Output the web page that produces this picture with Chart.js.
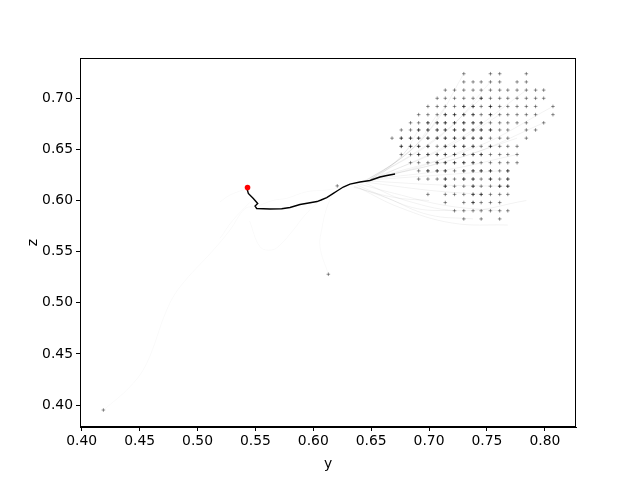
<!DOCTYPE html>
<html>
<head>
<meta charset="utf-8">
<script src="https://cdn.jsdelivr.net/npm/chart.js@4/dist/chart.umd.min.js"></script>
<style>
  html, body { margin: 0; padding: 0; background: #fff; }
</style>
</head>
<body>
<canvas id="trajChart" width="640" height="480"></canvas>
<script>
// grid of start positions (column y values, row z values, which columns each row has)
const colY = [0.668, 0.676, 0.684, 0.691, 0.699, 0.707, 0.714, 0.722, 0.730, 0.738,
              0.745, 0.753, 0.761, 0.768, 0.776, 0.784, 0.792, 0.799, 0.807];
const rowZ = [0.724, 0.716, 0.708, 0.700, 0.692, 0.684, 0.676, 0.669, 0.661, 0.653,
              0.645, 0.637, 0.629, 0.621, 0.614, 0.606, 0.598, 0.590, 0.582];
const rowCols = [
    [8, 11, 12, 15],
    [8, 9, 10, 11, 12, 14, 15],
    [6, 7, 8, 9, 10, 11, 12, 13, 14, 15, 16, 17],
    [5, 6, 7, 8, 9, 10, 11, 12, 13, 14, 15, 16, 17],
    [4, 5, 6, 7, 8, 9, 10, 11, 12, 13, 14, 15, 16, 18],
    [3, 4, 5, 6, 7, 8, 9, 10, 11, 12, 13, 14, 15, 16, 18],
    [2, 3, 4, 5, 6, 7, 8, 9, 10, 11, 12, 13, 14, 15, 17],
    [1, 2, 3, 4, 5, 6, 7, 8, 9, 10, 11, 12, 13, 15, 16],
    [0, 1, 2, 3, 4, 5, 6, 7, 8, 9, 10, 11, 12, 13, 15],
    [1, 2, 3, 4, 5, 6, 7, 8, 9, 10, 11, 12, 13, 14],
    [1, 2, 3, 4, 5, 6, 7, 8, 9, 10, 11, 12, 13, 14],
    [2, 3, 4, 5, 6, 7, 8, 9, 10, 11, 12, 13, 14],
    [3, 4, 5, 6, 7, 8, 9, 10, 11, 12, 13],
    [3, 4, 5, 6, 7, 8, 9, 10, 11, 12, 13],
    [6, 7, 8, 9, 10, 11, 12, 13],
    [4, 6, 7, 8, 9, 10, 11, 12, 13],
    [6, 8, 9, 10, 11, 12],
    [7, 8, 9, 10, 11, 12, 13],
    [8, 10, 12]
];
// cells where several markers overlap (drawn darker)
const darkCols = [
    [], [], [], [10], [8, 9, 11], [6, 7, 8, 9, 11], [4, 5, 6, 7, 8, 9, 10],
    [3, 4, 5, 6, 7, 8, 9, 10, 11], [1, 2, 3, 4, 5, 6, 7, 8, 9, 10],
    [1, 2, 3, 4, 6, 7, 8, 9, 11], [3, 4, 5, 6, 7, 8, 9, 10], [5, 6, 7, 8, 9],
    [4, 5, 6, 8, 9, 10, 11, 13], [6, 8, 9, 11, 13], [6, 9, 12, 13], [9, 10], [9], [], []
];
// stray end points
const extraY = [0.4187, 0.6130, 0.6207];
const extraZ = [0.3951, 0.5279, 0.6143];

// mean trajectory (black) and its start (red)
const pathY = [0.5425, 0.5439, 0.5482, 0.5520, 0.5497, 0.5511, 0.5626, 0.5727, 0.5799, 0.5885,
               0.5972, 0.6032, 0.6067, 0.6116, 0.6173, 0.6205, 0.6259, 0.6317, 0.6403, 0.6490,
               0.6576, 0.6636, 0.6706];
const pathZ = [0.6125, 0.6070, 0.6020, 0.5971, 0.5946, 0.5922, 0.5917, 0.5920, 0.5932, 0.5961,
               0.5978, 0.5990, 0.6005, 0.6029, 0.6070, 0.6093, 0.6132, 0.6161, 0.6181, 0.6196,
               0.6230, 0.6245, 0.6259];
const startY = [0.5432];
const startZ = [0.6128];

// faint single trajectories in the fan, [y, z] pairs
const fanTraces = [
    [[0.730, 0.724], [0.700, 0.668], [0.655, 0.622]],
    [[0.753, 0.716], [0.712, 0.665], [0.650, 0.621]],
    [[0.784, 0.708], [0.725, 0.660], [0.655, 0.622]],
    [[0.807, 0.692], [0.740, 0.652], [0.650, 0.621]],
    [[0.799, 0.676], [0.735, 0.645], [0.655, 0.622]],
    [[0.745, 0.700], [0.705, 0.660], [0.648, 0.620]],
    [[0.714, 0.692], [0.690, 0.655], [0.650, 0.621]],
    [[0.707, 0.684], [0.685, 0.650], [0.645, 0.619]],
    [[0.761, 0.684], [0.715, 0.652], [0.650, 0.621]],
    [[0.776, 0.661], [0.720, 0.640], [0.650, 0.621]],
    [[0.691, 0.669], [0.675, 0.642], [0.645, 0.619]],
    [[0.738, 0.653], [0.700, 0.636], [0.648, 0.620]],
    [[0.684, 0.653], [0.668, 0.635], [0.642, 0.618]],
    [[0.776, 0.645], [0.715, 0.630], [0.650, 0.621]],
    [[0.761, 0.629], [0.710, 0.625], [0.648, 0.620]],
    [[0.768, 0.614], [0.715, 0.615], [0.650, 0.619]],
    [[0.745, 0.606], [0.700, 0.610], [0.645, 0.618]],
    [[0.761, 0.590], [0.715, 0.595], [0.670, 0.607], [0.640, 0.616]],
    [[0.738, 0.582], [0.700, 0.586], [0.665, 0.602], [0.638, 0.615]],
    [[0.784, 0.600], [0.730, 0.590], [0.680, 0.600], [0.645, 0.617]],
    [[0.722, 0.590], [0.690, 0.592], [0.660, 0.604], [0.635, 0.614]],
    [[0.768, 0.576], [0.720, 0.578], [0.675, 0.593], [0.640, 0.612]],
    [[0.700, 0.600], [0.670, 0.603], [0.635, 0.613]]
];
// very faint stray trajectories on the left
const looseTraces = [
    [[0.4187, 0.3951], [0.4417, 0.4179], [0.4561, 0.4408], [0.4734, 0.4929], [0.4850, 0.5157],
     [0.5137, 0.5516], [0.5281, 0.5712], [0.5410, 0.5920], [0.5500, 0.5940]],
    [[0.6130, 0.5278], [0.6058, 0.5548], [0.6075, 0.5731], [0.6116, 0.5927], [0.6170, 0.6070]],
    [[0.5450, 0.5800], [0.5540, 0.5548], [0.5641, 0.5516], [0.5712, 0.5565], [0.5827, 0.5711],
     [0.5928, 0.5858], [0.6040, 0.5985]],
    [[0.5510, 0.5940], [0.5650, 0.6000], [0.5770, 0.6022], [0.5943, 0.6086], [0.6116, 0.6103],
     [0.6250, 0.6130]],
    [[0.5195, 0.5988], [0.5281, 0.6054], [0.5395, 0.6103], [0.5450, 0.6120]],
    [[0.5195, 0.5630], [0.5300, 0.5800], [0.5450, 0.5980]]
];

const xTicks = [0.40, 0.45, 0.50, 0.55, 0.60, 0.65, 0.70, 0.75, 0.80];
const yTicks = [0.40, 0.45, 0.50, 0.55, 0.60, 0.65, 0.70];

// build point lists
const gridPts = [];
rowCols.forEach((cols, r) => cols.forEach(c => gridPts.push({ x: colY[c], y: rowZ[r] })));
extraY.forEach((v, i) => gridPts.push({ x: v, y: extraZ[i] }));
const darkPts = [];
darkCols.forEach((cols, r) => cols.forEach(c => darkPts.push({ x: colY[c], y: rowZ[r] })));
const pathPts = pathY.map((v, i) => ({ x: v, y: pathZ[i] }));
const startPts = startY.map((v, i) => ({ x: v, y: startZ[i] }));

const datasets = [
    { data: startPts, pointStyle: "circle", pointRadius: 2.8, backgroundColor: "#ff0000",
      borderColor: "#ff0000", borderWidth: 0, showLine: false, order: 0 },
    { data: pathPts, showLine: true, borderColor: "#000", borderWidth: 1.4, pointRadius: 0,
      tension: 0, order: 1 },
    { data: darkPts, pointStyle: "cross", pointRadius: 1.8, borderColor: "rgba(0,0,0,0.4)",
      borderWidth: 1, showLine: false, order: 2 },
    { data: gridPts, pointStyle: "cross", pointRadius: 1.8, borderColor: "rgba(0,0,0,0.42)",
      borderWidth: 1, showLine: false, order: 3 }
];
fanTraces.forEach(t => datasets.push({
    data: t.map(p => ({ x: p[0], y: p[1] })),
    showLine: true, borderColor: "rgba(0,0,0,0.05)", borderWidth: 1, pointRadius: 0,
    tension: 0.4, order: 4
}));
looseTraces.forEach(t => datasets.push({
    data: t.map(p => ({ x: p[0], y: p[1] })),
    showLine: true, borderColor: "rgba(0,0,0,0.025)", borderWidth: 1, pointRadius: 0,
    tension: 0.4, order: 5
}));

// all four spines like the original
const frame = {
    id: "frame",
    afterDraw(chart) {
        const a = chart.chartArea, ctx = chart.ctx;
        ctx.save();
        ctx.strokeStyle = "#000";
        ctx.lineWidth = 1;
        ctx.strokeRect(Math.round(a.left) + 0.5, Math.round(a.top) + 0.5,
                       Math.round(a.right - a.left) - 1, Math.round(a.bottom - a.top) - 1);
        ctx.restore();
    }
};

const font = { family: "DejaVu Sans", size: 13.9 };

new Chart(document.getElementById("trajChart"), {
    type: "scatter",
    data: { datasets: datasets },
    plugins: [frame],
    options: {
        responsive: false,
        animation: false,
        layout: { padding: { left: 0, right: 64, top: 58, bottom: 7 } },
        plugins: { legend: { display: false }, tooltip: { enabled: false } },
        scales: {
            x: {
                type: "linear", min: 0.3985, max: 0.8269,
                afterBuildTicks: s => { s.ticks = xTicks.map(v => ({ value: v })); },
                afterFit: s => { s.height = 46; },
                ticks: { callback: v => v.toFixed(2), color: "#000", font: font, padding: 2,
                         maxRotation: 0, autoSkip: false },
                grid: { drawOnChartArea: false, drawTicks: true, tickLength: 4, tickColor: "#000" },
                border: { color: "#000" },
                title: { display: true, text: "y", color: "#000", font: font, padding: { top: 2, bottom: 0 } }
            },
            y: {
                type: "linear", min: 0.3785, max: 0.7394,
                afterBuildTicks: s => { s.ticks = yTicks.map(v => ({ value: v })); },
                afterFit: s => { s.width = 80; },
                ticks: { callback: v => v.toFixed(2), color: "#000", font: font, padding: 3,
                         autoSkip: false },
                grid: { drawOnChartArea: false, drawTicks: true, tickLength: 4, tickColor: "#000" },
                border: { color: "#000" },
                title: { display: true, text: "z", color: "#000", font: font, padding: { top: 25, bottom: 0 } }
            }
        }
    }
});
</script>
</body>
</html>
